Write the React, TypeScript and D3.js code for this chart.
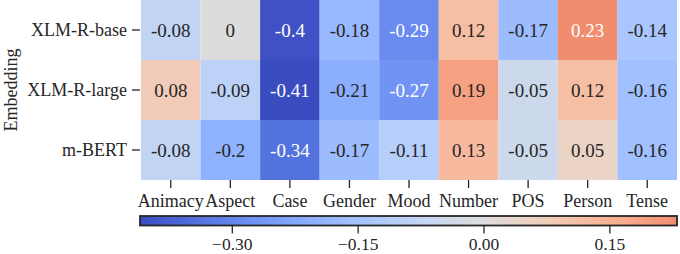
import React from 'react';
import * as d3 from 'd3';

const embeddings = ['XLM-R-base', 'XLM-R-large', 'm-BERT'];
const features = ['Animacy', 'Aspect', 'Case', 'Gender', 'Mood', 'Number', 'POS', 'Person', 'Tense'];

const xlmrBase = [-0.08, 0, -0.4, -0.18, -0.29, 0.12, -0.17, 0.23, -0.14];
const xlmrLarge = [0.08, -0.09, -0.41, -0.21, -0.27, 0.19, -0.05, 0.12, -0.16];
const mBert = [-0.08, -0.2, -0.34, -0.17, -0.11, 0.13, -0.05, 0.05, -0.16];

const colorbarTicks = [-0.3, -0.15, 0, 0.15];

// matplotlib coolwarm (Moreland), 33 control points
const coolwarm = [
  [59, 76, 192], [68, 90, 204], [77, 104, 215], [87, 117, 225], [98, 130, 234],
  [108, 142, 241], [119, 154, 247], [130, 165, 251], [141, 176, 254], [152, 185, 255],
  [163, 194, 255], [174, 201, 253], [184, 208, 249], [194, 213, 244], [204, 217, 238],
  [213, 219, 230], [221, 221, 221], [229, 216, 209], [236, 211, 197], [241, 204, 184],
  [245, 196, 172], [247, 187, 159], [247, 177, 147], [247, 166, 134], [244, 154, 123],
  [241, 141, 111], [236, 127, 99], [229, 112, 88], [222, 96, 77], [213, 80, 66],
  [203, 62, 56], [192, 40, 47], [180, 4, 38],
];
const cwInterp = d3.interpolateRgbBasis(coolwarm.map(c => d3.rgb(c[0], c[1], c[2]).toString()));

const FONT = "'Liberation Serif', 'Times New Roman', serif";

const App: React.FC = () => {
  const rows = [xlmrBase, xlmrLarge, mBert];
  const all = rows.flat();
  const vmin = d3.min(all) as number;
  const vmax = d3.max(all) as number;
  // seaborn center=0: colormap recentred on zero
  const vrange = Math.max(vmax, -vmin);
  const color = (v: number) => cwInterp(0.5 + v / (2 * vrange));

  const left = 141, right = 677, top = 0, bottom = 180;
  const x = d3.scaleBand<string>().domain(features).range([left, right]);
  const y = d3.scaleBand<string>().domain(embeddings).range([top, bottom]);

  const cbTop = 216, cbBottom = 225.5;
  const cb = d3.scaleLinear().domain([vmin, vmax]).range([140, 677]);
  const stops = d3.range(0, 1.0001, 0.02);

  const luminance = (c: string) => {
    const rgb = d3.rgb(c);
    const f = (u: number) => {
      const s = u / 255;
      return s <= 0.03928 ? s / 12.92 : Math.pow((s + 0.055) / 1.055, 2.4);
    };
    return 0.2126 * f(rgb.r) + 0.7152 * f(rgb.g) + 0.0722 * f(rgb.b);
  };

  const fmtTick = (v: number) => d3.format('.2f')(v).replace('-', '\u2212');

  return (
    <svg width={680} height={254} style={{ position: 'absolute', left: 0, top: 0, fontFamily: FONT }}>
      <defs>
        <linearGradient id="cbGrad" x1="0" x2="1" y1="0" y2="0">
          {stops.map(t => (
            <stop key={t} offset={t} stopColor={color(vmin + t * (vmax - vmin))} />
          ))}
        </linearGradient>
      </defs>

      {/* cells */}
      {rows.map((vals, ri) =>
        vals.map((v, ci) => {
          const c = color(v);
          return (
            <g key={`${ri}-${ci}`}>
              <rect
                x={x(features[ci])}
                y={y(embeddings[ri])}
                width={x.bandwidth()}
                height={y.bandwidth()}
                fill={c}
              />
              <text
                x={(x(features[ci]) as number) + x.bandwidth() / 2}
                y={(y(embeddings[ri]) as number) + y.bandwidth() / 2}
                dy="0.35em"
                textAnchor="middle"
                fontSize={19}
                fill={luminance(c) > 0.408 ? '#262626' : '#ffffff'}
              >
                {String(v)}
              </text>
            </g>
          );
        })
      )}

      {/* y axis */}
      {embeddings.map(e => {
        const cy = (y(e) as number) + y.bandwidth() / 2;
        return (
          <g key={e}>
            <line x1={132} x2={140} y1={cy} y2={cy} stroke="#262626" strokeWidth={1.3} />
            <text x={127} y={cy} dy="0.35em" textAnchor="end" fontSize={18} fill="#262626">{e}</text>
          </g>
        );
      })}
      <text
        transform={`translate(17,${(top + bottom) / 2}) rotate(-90)`}
        textAnchor="middle"
        fontSize={18}
        fill="#262626"
      >
        Embedding
      </text>

      {/* x axis */}
      {features.map(f => {
        const cx = (x(f) as number) + x.bandwidth() / 2;
        return (
          <g key={f}>
            <line x1={cx} x2={cx} y1={bottom} y2={bottom + 8} stroke="#262626" strokeWidth={1.3} />
            <text x={cx} y={207} textAnchor="middle" fontSize={18} fill="#262626">{f}</text>
          </g>
        );
      })}

      {/* colorbar */}
      <rect x={cb.range()[0]} y={cbTop} width={cb.range()[1] - cb.range()[0]} height={cbBottom - cbTop} fill="url(#cbGrad)" stroke="#262626" strokeWidth={1.8} />
      {colorbarTicks.map(t => (
        <g key={t}>
          <line x1={cb(t)} x2={cb(t)} y1={cbBottom} y2={cbBottom + 8} stroke="#262626" strokeWidth={1.3} />
          <text x={cb(t)} y={250} textAnchor="middle" fontSize={17.5} fill="#262626">{fmtTick(t)}</text>
        </g>
      ))}
    </svg>
  );
};

export default App;
